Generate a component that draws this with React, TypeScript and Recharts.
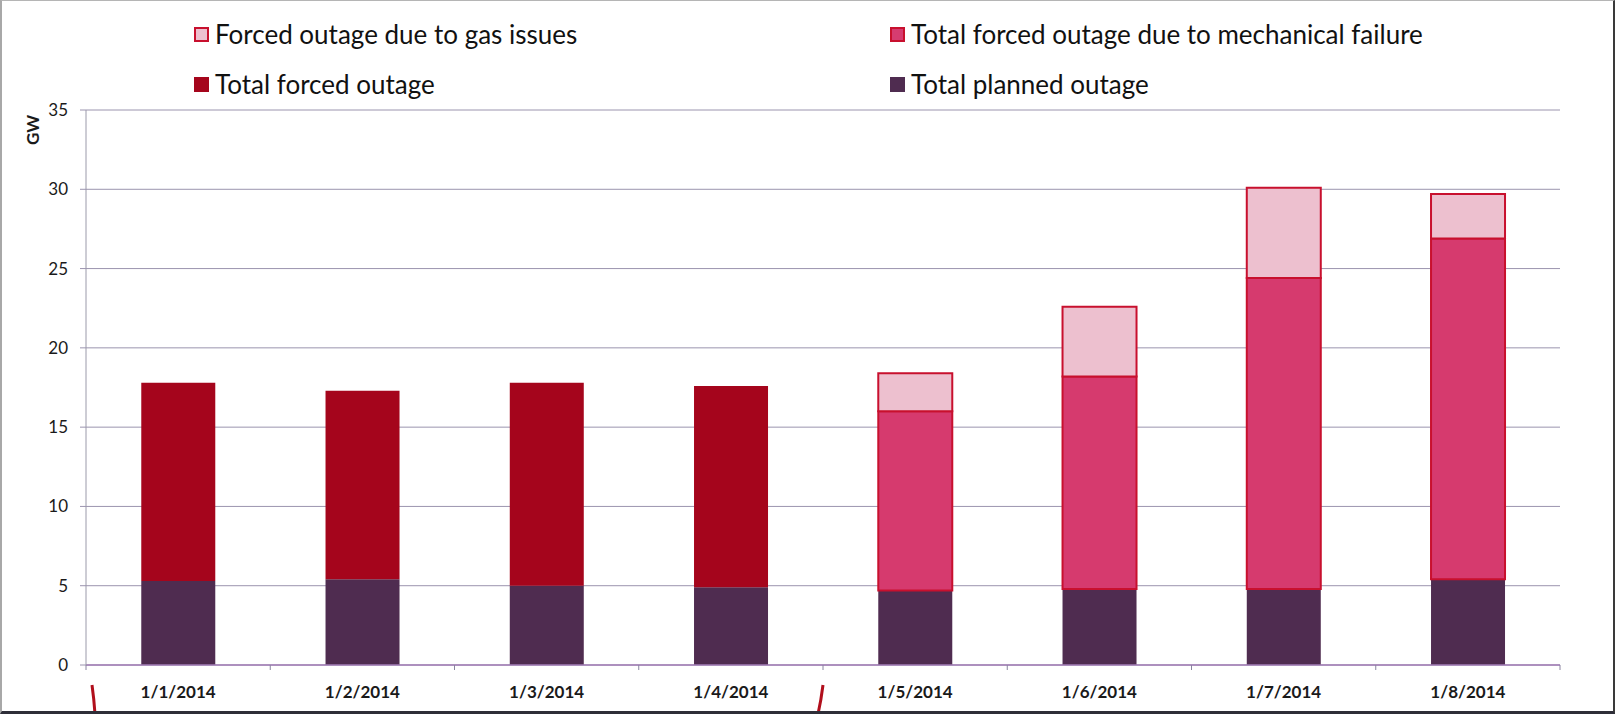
import { BarChart, Bar, CartesianGrid, XAxis, YAxis } from "recharts";

// outage by day, GW (stacked segments)
const days = ["1/1/2014", "1/2/2014", "1/3/2014", "1/4/2014", "1/5/2014", "1/6/2014", "1/7/2014", "1/8/2014"];
const plannedOutage = [5.3, 5.4, 5.0, 4.9, 4.7, 4.8, 4.8, 5.4];
const totalForced = [12.5, 11.9, 12.8, 12.7, null, null, null, null];
const mechanicalForced = [null, null, null, null, 11.3, 13.4, 19.6, 21.5];
const gasForced = [null, null, null, null, 2.4, 4.4, 5.7, 2.8];
const yTicks = [0, 5, 10, 15, 20, 25, 30, 35];
// category boundaries that get the red bracket marks below the axis
const bracketAt = [0, 4];

const W = 1615;
const H = 714;
const MARGIN = { top: 110, right: 55, bottom: 0, left: 0 };
const Y_W = 86;
const X_H = 49;
const BAND = (W - MARGIN.left - MARGIN.right - Y_W) / days.length;
const FONT = "Lato, 'Open Sans', sans-serif";

const data = days.map((day, i) => ({
  day,
  planned: plannedOutage[i],
  forced: totalForced[i],
  mechanical: mechanicalForced[i],
  gas: gasForced[i],
}));

const legendItems = [
  { label: "Forced outage due to gas issues", fill: "#edc0cf", border: "#c8102e", left: 194, top: 34 },
  { label: "Total forced outage due to mechanical failure", fill: "#d63c70", border: "#c8102e", left: 890, top: 34 },
  { label: "Total forced outage", fill: "#a5051c", border: "#a5051c", left: 194, top: 84 },
  { label: "Total planned outage", fill: "#4f2c50", border: "#4f2c50", left: 890, top: 84 },
];

function DayTick(props: any) {
  const { x, y, payload, index } = props;
  const left = x - BAND / 2;
  const right = x + BAND / 2;
  return (
    <g>
      <line x1={left} y1={y} x2={left} y2={y + 5} stroke="#8a84a0" strokeWidth={1} />
      {index === days.length - 1 && (
        <line x1={right} y1={y} x2={right} y2={y + 5} stroke="#8a84a0" strokeWidth={1} />
      )}
      {bracketAt.includes(index) && (
        <path
          d={
            index === 0
              ? `M${left + 6},${y + 20} Q${left + 8},${y + 34} ${left + 9},${y + 49}`
              : `M${left},${y + 20} Q${left - 2},${y + 36} ${left - 5},${y + 49}`
          }
          stroke="#b10f1c"
          strokeWidth={3}
          fill="none"
        />
      )}
      <text x={x} y={y + 33} textAnchor="middle" fontFamily={FONT} fontWeight={700} fontSize={17} fill="#1a1a1a">
        {payload.value}
      </text>
    </g>
  );
}

export default function App() {
  return (
    <div style={{ position: "absolute", left: 0, top: 0, width: W, height: H, background: "#fff" }}>
      <BarChart width={W} height={H} data={data} margin={MARGIN} barCategoryGap="30%">
        <CartesianGrid vertical={false} stroke="#9b94ae" strokeWidth={1} />
        <XAxis
          dataKey="day"
          height={X_H}
          axisLine={{ stroke: "#a27cb6", strokeWidth: 1.5 }}
          tickLine={false}
          tickSize={0}
          tickMargin={0}
          interval={0}
          tick={<DayTick />}
        />
        <YAxis
          width={Y_W}
          domain={[0, 35]}
          ticks={yTicks}
          interval={0}
          axisLine={{ stroke: "#9b9aaa" }}
          tickLine={{ stroke: "#9b94ae" }}
          tickSize={6}
          tickMargin={12}
          tick={{ fontFamily: FONT, fontSize: 17, fill: "#1a1a1a" }}
          label={{
            value: "GW",
            angle: -90,
            position: "insideTopLeft",
            dx: 22,
            dy: 30,
            style: { fontFamily: FONT, fontWeight: 700, fontSize: 17, fill: "#1a1a1a" },
          }}
        />
        <Bar dataKey="planned" stackId="out" fill="#4f2c50" isAnimationActive={false} />
        <Bar dataKey="forced" stackId="out" fill="#a5051c" isAnimationActive={false} />
        <Bar dataKey="mechanical" stackId="out" fill="#d63a6e" stroke="#c8102e" strokeWidth={2} isAnimationActive={false} />
        <Bar dataKey="gas" stackId="out" fill="#edc0cf" stroke="#c8102e" strokeWidth={2} isAnimationActive={false} />
      </BarChart>

      {legendItems.map((item) => (
        <div
          key={item.label}
          style={{
            position: "absolute",
            left: item.left,
            top: item.top,
            transform: "translateY(-50%)",
            display: "flex",
            alignItems: "center",
            fontFamily: FONT,
            fontSize: 26,
            color: "#111",
            whiteSpace: "nowrap",
          }}
        >
          <span
            style={{
              display: "inline-block",
              width: 15,
              height: 15,
              boxSizing: "border-box",
              background: item.fill,
              border: `2px solid ${item.border}`,
              marginRight: 6,
            }}
          />
          {item.label}
        </div>
      ))}

      <div
        style={{
          position: "absolute",
          inset: 0,
          boxSizing: "border-box",
          borderTop: "1px solid #b5b5b5",
          borderLeft: "2px solid #a8a8a8",
          borderRight: "2px solid #3a3a3a",
          borderBottom: "3px solid #2e2e38",
          pointerEvents: "none",
        }}
      />
    </div>
  );
}
